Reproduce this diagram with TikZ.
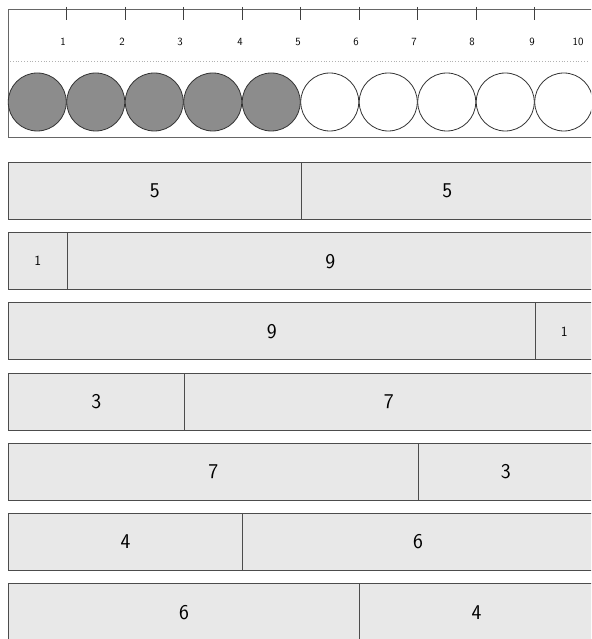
\documentclass[tikz,border=0pt]{standalone}
\begin{document}
\begin{tikzpicture}[x=1pt,y=-1pt,
  seg/.style={draw=black!70,fill=black!9,line width=0.9pt,minimum height=57pt,inner sep=0pt,anchor=north west,font=\sffamily\fontsize{21}{24}\selectfont},
  smallseg/.style={seg,font=\sffamily\fontsize{14}{16}\selectfont},
  bead/.style={circle,draw=black!80,line width=0.8pt,minimum size=58pt,inner sep=0pt},
  full/.style={bead,fill=black!45},
  empty/.style={bead,fill=white},
  tick/.style={draw=black!75,line width=0.8pt},
  num/.style={font=\sffamily\fontsize{11}{13}\selectfont}
]
\useasboundingbox (0,0) rectangle (591,639);
\clip (0,0) rectangle (591,639);
% top frame
\node[draw=black!60,line width=0.8pt,minimum width=590pt,minimum height=128pt,anchor=north west,inner sep=0pt] (frame) at (8,9) {};
\draw[black!30,dotted,line width=0.8pt] (10,61) -- (589,61);
\foreach \i in {1,...,9}{
  \coordinate (t\i) at (8+58.5*\i,7);
  \coordinate (tb\i) at (8+58.5*\i,20);
  \draw[tick] (t\i) -- (tb\i);
}
\foreach \i/\x in {1/63,2/122,3/180,4/240,5/298,6/356,7/414,8/472,9/532,10/578}{
  \node[num] (n\i) at (\x,42) {\i};
}
\foreach \i in {1,...,5}{ \node[full] (b\i) at (8+58.5*\i-29.25,102) {}; }
\foreach \i in {6,...,10}{ \node[empty] (b\i) at (8+58.5*\i-29.25,102) {}; }
% bars
\foreach \r/\a/\b in {1/5/5,2/1/9,3/9/1,4/3/7,5/7/3,6/4/6,7/6/4}{
  \pgfmathsetmacro{\ytop}{162+70.2*(\r-1)}
  \pgfmathsetmacro{\wa}{58.5*\a}
  \pgfmathsetmacro{\wb}{58.5*\b}
  \ifnum\a=1 \def\sa{smallseg}\else\def\sa{seg}\fi
  \ifnum\b=1 \def\sb{smallseg}\else\def\sb{seg}\fi
  \node[\sa,minimum width=\wa pt] (r\r a) at (8,\ytop) {\a};
  \node[\sb,minimum width=\wb pt] (r\r b) at (8+\wa,\ytop) {\b};
}
\end{tikzpicture}
\end{document}
